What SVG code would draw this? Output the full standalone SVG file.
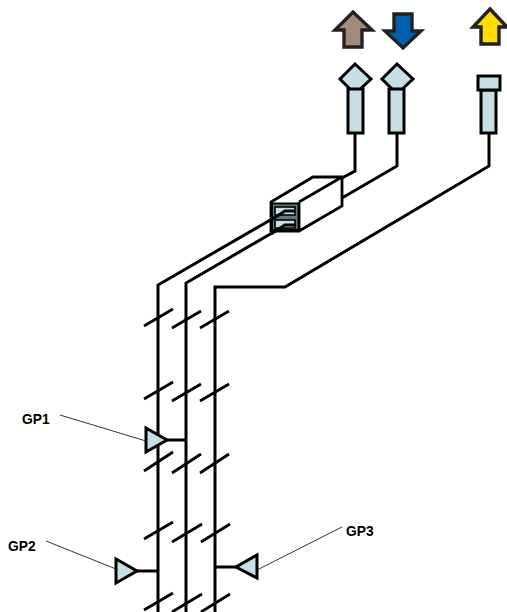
<svg xmlns="http://www.w3.org/2000/svg" width="507" height="612" viewBox="0 0 507 612">
<style>
.p{fill:none;stroke:#000;stroke-width:3;stroke-linejoin:miter}
.t{fill:none;stroke:#000;stroke-width:2.8}
.s{fill:#c5dfe4;stroke:#000;stroke-width:3}
.a{stroke:#222;stroke-width:3.4;stroke-linejoin:miter}
.l{fill:none;stroke:#000;stroke-width:.8}
text{font:bold 13.800px "Liberation Sans",Arial,sans-serif;fill:#000}
</style>
<rect width="507" height="612" fill="#fff"/>
<g id="connectors">
<path class="p" d="M355 133V171L342 178"/>
<path class="p" d="M397 133V166L342 198"/>
<path class="p" d="M489 133V166L285 287H215V612"/>
<path class="p" d="M158 612V285L272 219"/>
<path class="p" d="M186 612V283L272 233"/>
<path class="p" d="M167 440H186M137 571H158M236 567H215"/>
<path class="t" d="M144 326L173 309M172 328L201 311M200 328L229 311M144 399L173 382M172 401L201 384M200 401L229 384M144 471L173 452M172 473L201 454M200 473L229 454M144 539L173 522M172 542L202 524M201 542L230 524M144 610L173 593M172 612L202 594M201 612L230 594"/>
<path class="l" d="M60 415L146 441M46 541L116 569M342 527L257 570"/>
</g>
<g id="arrow-brown"><path class="a" fill="#a08a78" d="M353 12L372 30H362V47H344V30H335Z"/></g>
<g id="arrow-blue"><path class="a" fill="#0060ae" d="M394 14H412V31H421L403 48L385 31H394Z"/></g>
<g id="arrow-yellow"><path class="a" fill="#ffdd00" d="M490 9L507 27H499V44H481V27H473Z"/></g>
<g id="terminal-1"><path class="s" d="M355 64L371 79L355 94L340 79Z"/><rect class="s" x="348" y="89" width="15" height="44"/></g>
<g id="terminal-2"><path class="s" d="M397 64L413 79L397 94L382 79Z"/><rect class="s" x="389" y="89" width="15" height="44"/></g>
<g id="terminal-3"><rect class="s" x="481" y="90" width="15" height="43"/><rect class="s" x="478" y="76" width="22" height="14"/></g>
<g id="box">
<path fill="#fff" stroke="#000" stroke-width="2.800" d="M271 202L313 177H342V206L299 231H271ZM299 202L342 177M299 202V231"/>
<rect x="272" y="203.500" width="26.500" height="26.500" fill="#5c7c80" stroke="#000" stroke-width="2"/>
<rect x="275" y="207" width="20" height="8" fill="#c5dfe4" stroke="#000" stroke-width="1.600"/>
<rect x="275" y="220" width="20" height="8" fill="#c5dfe4" stroke="#000" stroke-width="1.600"/>
<path class="p" d="M271 220L285 211H295M271 234L285 225H295"/>
</g>
<g id="gp1"><path class="s" d="M146 428L167 440L146 452Z"/><text x="22" y="424">GP1</text></g>
<g id="gp2"><path class="s" d="M116 559L137 571L116 583Z"/><text x="8" y="551">GP2</text></g>
<g id="gp3"><path class="s" d="M257 555L236 567L257 578Z"/><text x="346" y="536">GP3</text></g>
</svg>
